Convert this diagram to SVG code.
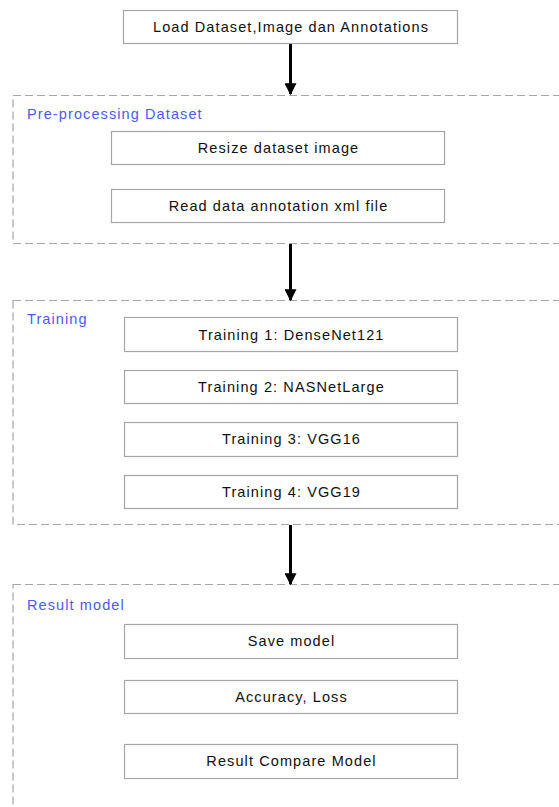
<svg xmlns="http://www.w3.org/2000/svg" width="559" height="807" viewBox="0 0 559 807">
<defs>
<style>
.box{fill:#fff;stroke:#a6a6a6;stroke-width:1.2}
.grp{fill:none;stroke:#a6a6a6;stroke-width:1.2;stroke-dasharray:8,4}
.t{font-family:"Liberation Sans",Arial,sans-serif;font-size:14.5px;letter-spacing:1.1px;fill:#111;text-anchor:middle}
.lbl{font-family:"Liberation Sans",Arial,sans-serif;font-size:14.5px;letter-spacing:1.1px;fill:#4a5cf0}
.arr{stroke:#000;stroke-width:3;fill:none}
</style>
<marker id="ah" viewBox="0 0 10 10" refX="9" refY="5" markerWidth="4" markerHeight="4" orient="auto" markerUnits="strokeWidth">
<path d="M0,0 L10,5 L0,10 z" fill="#000"/>
</marker>
</defs>
<rect width="559" height="807" fill="#fff"/>
<g id="groups">
<g id="grp-preprocessing"><rect class="grp" x="13" y="95.5" width="560" height="148"/><text class="lbl" x="27" y="119">Pre-processing Dataset</text></g>
<g id="grp-training"><rect class="grp" x="13" y="300.5" width="560" height="224"/><text class="lbl" x="27" y="324">Training</text></g>
<g id="grp-result"><rect class="grp" x="13" y="584.5" width="560" height="240"/><text class="lbl" x="27" y="610">Result model</text></g>
</g>
<g id="connectors">
<line class="arr" x1="290.5" y1="44" x2="290.5" y2="94" marker-end="url(#ah)"/>
<line class="arr" x1="290.5" y1="244" x2="290.5" y2="300" marker-end="url(#ah)"/>
<line class="arr" x1="290.5" y1="525" x2="290.5" y2="584" marker-end="url(#ah)"/>
</g>
<g id="n-load"><rect class="box" x="123.5" y="10.5" width="334" height="33"/><text class="t" x="291" y="32">Load Dataset,Image dan Annotations</text></g>
<g id="n-resize"><rect class="box" x="111.5" y="131.5" width="333" height="33"/><text class="t" x="278.5" y="153">Resize dataset image</text></g>
<g id="n-read"><rect class="box" x="111.5" y="189.5" width="333" height="33"/><text class="t" x="278.5" y="211">Read data annotation xml file</text></g>
<g id="n-t1"><rect class="box" x="124.5" y="317.5" width="333" height="34"/><text class="t" x="291.5" y="340">Training 1: DenseNet121</text></g>
<g id="n-t2"><rect class="box" x="124.5" y="370.5" width="333" height="33"/><text class="t" x="291.5" y="392">Training 2: NASNetLarge</text></g>
<g id="n-t3"><rect class="box" x="124.5" y="422.5" width="333" height="34"/><text class="t" x="291.5" y="444">Training 3: VGG16</text></g>
<g id="n-t4"><rect class="box" x="124.5" y="475.5" width="333" height="33"/><text class="t" x="291.5" y="497">Training 4: VGG19</text></g>
<g id="n-save"><rect class="box" x="124.5" y="624.5" width="333" height="34"/><text class="t" x="291.5" y="646">Save model</text></g>
<g id="n-acc"><rect class="box" x="124.5" y="680.5" width="333" height="33"/><text class="t" x="291.5" y="702">Accuracy, Loss</text></g>
<g id="n-compare"><rect class="box" x="124.5" y="744.5" width="333" height="34"/><text class="t" x="291.5" y="766">Result Compare Model</text></g>
</svg>
